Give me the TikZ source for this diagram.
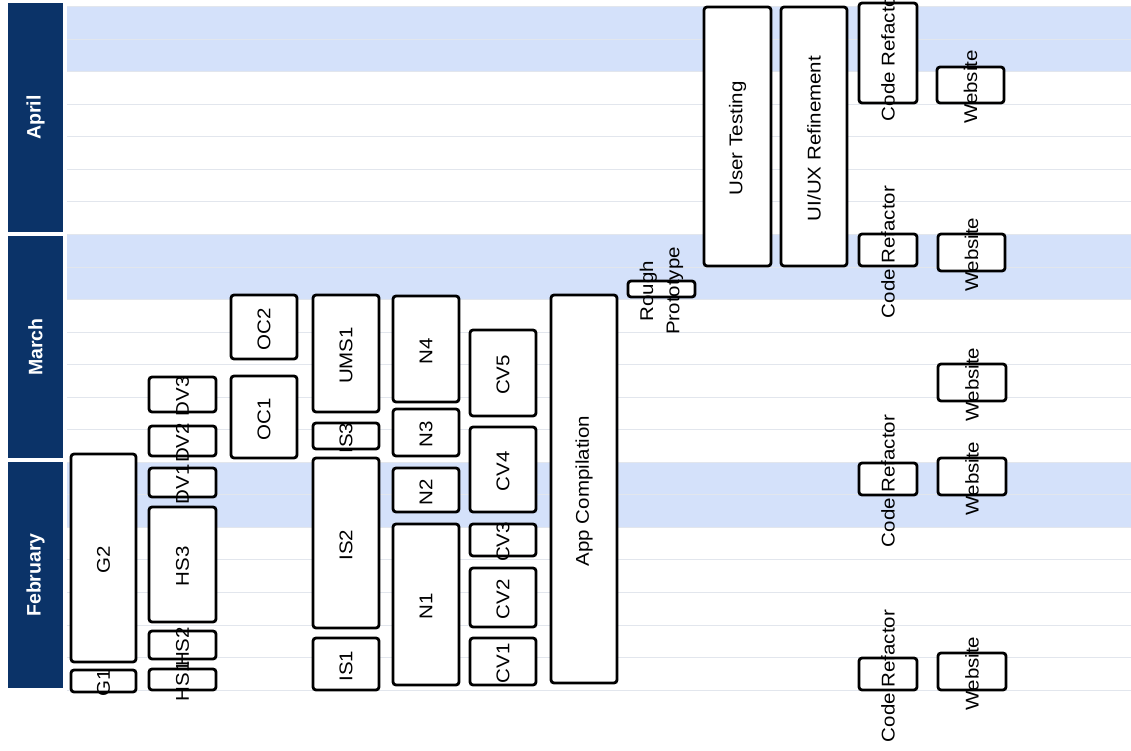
\documentclass[tikz,border=0pt]{standalone}
\usepackage{fontspec}
\setmainfont{Liberation Sans}
\usetikzlibrary{fit,calc}
\definecolor{navy}{RGB}{11,51,104}
\definecolor{bandblue}{RGB}{212,225,250}
\definecolor{gridline}{RGB}{226,230,237}
\newcommand\tsk[6]{%
  \node[taskbox, fit={(#2,#3) (#4,#5)}] (#1) {};
  \node[tasktext] (#1-t) at ($(#1.center)+(0,2)$) {#6};}
\newcommand\mnth[6]{%
  \node[monthbox, fit={(#2,#3) (#4,#5)}] (#1) {};
  \node[monthtext] (#1-t) at (#1.center) {#6};}
\begin{document}
\begin{tikzpicture}[x=1pt,y=-1pt,
  taskbox/.style={draw=black, line width=2.8pt, fill=white, rounded corners=3pt, inner sep=0pt},
  tasktext/.style={rotate=90, yscale=0.9, font=\fontsize{20.5}{29}\selectfont, inner sep=0pt, align=center},
  monthbox/.style={fill=navy, draw=none, inner sep=0pt},
  monthtext/.style={rotate=90, text=white, font=\bfseries\fontsize{19.5}{23}\selectfont, inner sep=0pt},
  band/.style={fill=bandblue, draw=none},
  gridln/.style={draw=gridline, line width=0.8pt}]
\useasboundingbox (0,0) rectangle (1131,751);
\clip (0,0) rectangle (1131,751);
\fill[white] (0,0) rectangle (1131,751);
% week bands and grid
\foreach \k in {0,7,14} \fill[band] (67,{6.5+32.55*\k}) rectangle (1131,{6.5+32.55*(\k+2)});
\foreach \k in {0,...,21} \draw[gridln] (67,{6.5+32.55*\k}) -- (1131,{6.5+32.55*\k});
% months
\mnth{apr}{8}{3}{63}{232}{April}
\mnth{mar}{8}{236}{63}{458}{March}
\mnth{feb}{8}{462}{63}{688}{February}
% column G
\tsk{G2}{71}{454}{136}{662}{G2}
\tsk{G1}{71}{670}{136}{692}{G1}
% column HS / DV
\tsk{HS1}{149}{669}{216}{690}{HS1}
\tsk{HS2}{149}{631}{216}{659}{HS2}
\tsk{HS3}{149}{507}{216}{622}{HS3}
\tsk{DV1}{149}{468}{216}{497}{DV1}
\tsk{DV2}{149}{426}{216}{456}{DV2}
\tsk{DV3}{149}{377}{216}{412}{DV3}
% column OC
\tsk{OC2}{231}{295}{297}{359}{OC2}
\tsk{OC1}{231}{376}{297}{458}{OC1}
% column IS / UMS
\tsk{UMS1}{313}{295}{379}{412}{UMS1}
\tsk{IS3}{313}{423}{379}{449}{IS3}
\tsk{IS2}{313}{458}{379}{628}{IS2}
\tsk{IS1}{313}{638}{379}{690}{IS1}
% column N
\tsk{N4}{393}{296}{459}{402}{N4}
\tsk{N3}{393}{409}{459}{456}{N3}
\tsk{N2}{393}{468}{459}{512}{N2}
\tsk{N1}{393}{524}{459}{685}{N1}
% column CV
\tsk{CV5}{470}{330}{536}{416}{CV5}
\tsk{CV4}{470}{427}{536}{512}{CV4}
\tsk{CV3}{470}{524}{536}{556}{CV3}
\tsk{CV2}{470}{568}{536}{627}{CV2}
\tsk{CV1}{470}{638}{536}{685}{CV1}
% compilation and prototype
\tsk{app}{551}{295}{617}{683}{App Compilation}
\tsk{proto}{628}{281}{695}{297}{Rough\\Prototype}
% testing and refinement
\tsk{ut}{704}{7}{771}{266}{User Testing}
\tsk{uiux}{781}{7}{847}{266}{UI/UX Refinement}
% code refactor
\tsk{cr1}{859}{3}{917}{103}{Code Refactor}
\tsk{cr2}{859}{234}{917}{266}{Code Refactor}
\tsk{cr3}{859}{463}{917}{495}{Code Refactor}
\tsk{cr4}{859}{658}{917}{690}{Code Refactor}
% website
\tsk{web1}{937}{67}{1004}{103}{Website}
\tsk{web2}{938}{234}{1005}{271}{Website}
\tsk{web3}{938}{364}{1006}{401}{Website}
\tsk{web4}{938}{458}{1006}{495}{Website}
\tsk{web5}{938}{653}{1006}{690}{Website}
\end{tikzpicture}
\end{document}
